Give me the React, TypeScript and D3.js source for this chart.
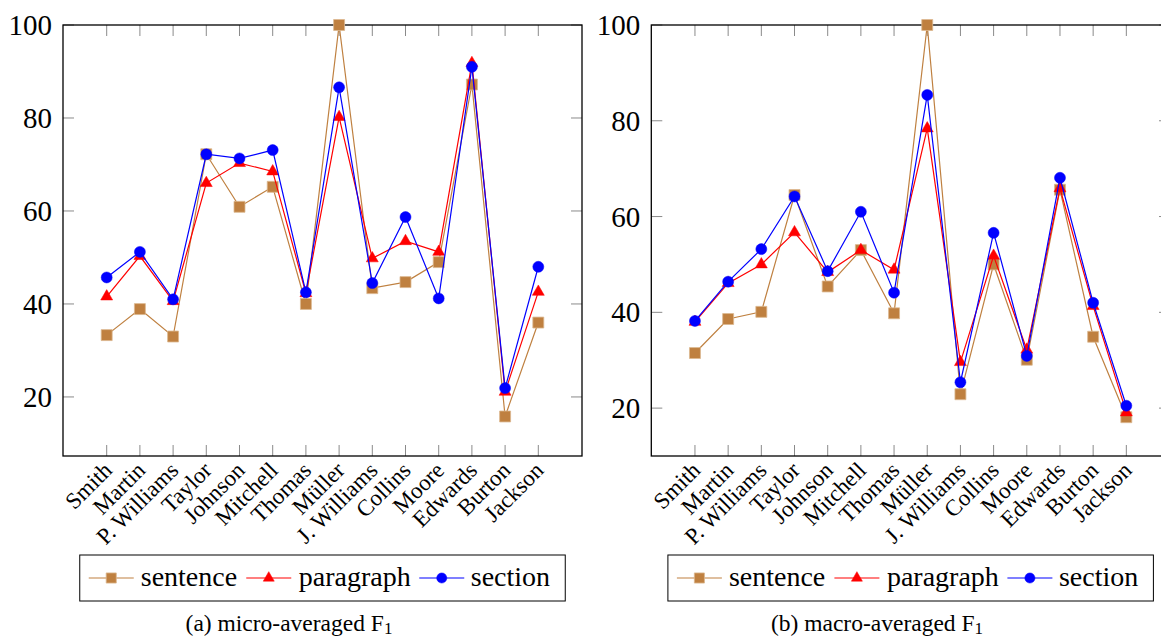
import React from 'react';
import * as d3 from 'd3';

const categories = ['Smith', 'Martin', 'P. Williams', 'Taylor', 'Johnson', 'Mitchell', 'Thomas', 'Müller', 'J. Williams', 'Collins', 'Moore', 'Edwards', 'Burton', 'Jackson'];

// micro-averaged F1
const microSentence = [33.3, 38.9, 33.0, 72.2, 60.9, 65.2, 40.0, 100, 43.4, 44.7, 49.0, 87.2, 15.8, 36.0];
const microParagraph = [41.6, 50.3, 40.6, 66.0, 70.3, 68.5, 42.3, 80.2, 49.8, 53.5, 51.2, 91.8, 21.1, 42.6];
const microSection = [45.7, 51.2, 41.0, 72.2, 71.3, 73.1, 42.5, 86.6, 44.5, 58.7, 41.2, 91.0, 21.9, 48.0];

// macro-averaged F1
const macroSentence = [31.5, 38.6, 40.1, 64.5, 45.4, 53.0, 39.8, 100, 22.9, 50.0, 30.1, 65.6, 34.9, 18.1];
const macroParagraph = [38.0, 46.1, 50.0, 56.7, 48.4, 53.0, 48.9, 78.4, 29.6, 51.8, 32.2, 65.9, 41.3, 19.1];
const macroSection = [38.2, 46.4, 53.2, 64.2, 48.6, 61.0, 44.1, 85.4, 25.4, 56.6, 30.9, 68.1, 42.0, 20.5];

const yTicks = [20, 40, 60, 80, 100];
const seriesNames = ['sentence', 'paragraph', 'section'];

const FONT = 'Liberation Serif, Times New Roman, serif';
const COLORS = ['#bf8040', '#ff0000', '#0000ff'];
const SYMBOLS = [d3.symbolSquare, d3.symbolTriangle, d3.symbolCircle];
const SIZES = [120, 62, 95];

const Marker = ({ i, x, y, scale = 1 }: { i: number; x: number; y: number; scale?: number }) => {
  const path = d3.symbol(SYMBOLS[i], SIZES[i] * scale)() as string;
  return (
    <path
      d={path}
      transform={`translate(${x},${y})`}
      fill={COLORS[i]}
      stroke={i === 0 ? '#dcb88f' : COLORS[i]}
      strokeWidth={i === 0 ? 0.8 : 0.5}
    />
  );
};

type PanelProps = {
  x0: number;
  x1: number;
  yMin: number;
  series: number[][];
  caption: string;
  captionX: number;
};

const Panel = ({ x0, x1, yMin, series, caption, captionX }: PanelProps) => {
  const top = 25;
  const bottom = 456;
  const x = d3.scalePoint<string>().domain(categories).range([x0, x1]).padding(1.316);
  const y = d3.scaleLinear().domain([yMin, 100]).range([bottom, top]);
  const line = d3.line<number>().x((_, i) => x(categories[i]) as number).y(d => y(d));
  const tickLen = 11;

  const legendW = 485.5;
  const lx = (x0 + x1) / 2 - legendW / 2;
  const ly = 555;
  const lh = 46;
  const legendItems = [
    { lineFrom: 9, lineTo: 54, text: 61 },
    { lineFrom: 166.5, lineTo: 211.5, text: 219 },
    { lineFrom: 339.5, lineTo: 384.5, text: 391 },
  ];

  return (
    <g>
      {/* ticks */}
      {categories.map(c => (
        <g key={c}>
          <line x1={x(c)} x2={x(c)} y1={bottom} y2={bottom - tickLen} stroke="#8a8a8a" strokeWidth={1} />
          <line x1={x(c)} x2={x(c)} y1={top} y2={top + tickLen} stroke="#8a8a8a" strokeWidth={1} />
        </g>
      ))}
      {yTicks.map(t => (
        <g key={t}>
          <line x1={x0} x2={x0 + tickLen} y1={y(t)} y2={y(t)} stroke="#8a8a8a" strokeWidth={1} />
          <line x1={x1} x2={x1 - tickLen} y1={y(t)} y2={y(t)} stroke="#8a8a8a" strokeWidth={1} />
          <text x={x0 - 11} y={y(t)} dy="0.35em" textAnchor="end" fontFamily={FONT} fontSize={29} fill="#000">
            {t}
          </text>
        </g>
      ))}
      <rect x={x0} y={top} width={x1 - x0} height={bottom - top} fill="none" stroke="#000" strokeWidth={1.3} />

      {/* category labels */}
      {categories.map(c => (
        <text
          key={c}
          transform={`translate(${(x(c) as number) + 1},${bottom + 10}) rotate(-45)`}
          textAnchor="end"
          dy="0.35em"
          fontFamily={FONT}
          fontSize={23}
          fill="#000"
        >
          {c}
        </text>
      ))}

      {/* series */}
      {series.map((vals, si) => (
        <g key={si}>
          <path d={line(vals) as string} fill="none" stroke={COLORS[si]} strokeWidth={1.2} />
          {vals.map((v, i) => (
            <Marker key={i} i={si} x={x(categories[i]) as number} y={y(v)} />
          ))}
        </g>
      ))}

      {/* legend */}
      <rect x={lx} y={ly} width={legendW} height={lh} fill="#fff" stroke="#000" strokeWidth={1} />
      {legendItems.map((it, i) => (
        <g key={i}>
          <line x1={lx + it.lineFrom} x2={lx + it.lineTo} y1={ly + lh / 2} y2={ly + lh / 2} stroke={COLORS[i]} strokeWidth={1.2} />
          <Marker i={i} x={lx + (it.lineFrom + it.lineTo) / 2} y={ly + lh / 2} scale={0.85} />
          <text x={lx + it.text} y={ly + lh / 2} dy="0.3em" fontFamily={FONT} fontSize={28} fill="#000">
            {seriesNames[i]}
          </text>
        </g>
      ))}

      {/* caption */}
      <text x={captionX} y={631} textAnchor="middle" fontFamily={FONT} fontSize={23.5} fill="#000">
        {caption}
        <tspan>F</tspan>
        <tspan dy={3} fontSize={17}>1</tspan>
      </text>
    </g>
  );
};

export default function App() {
  return (
    <svg
      width={1161}
      height={639}
      style={{ position: 'absolute', left: 0, top: 0, background: '#fff' }}
    >
      <rect width={1161} height={639} fill="#fff" />
      <Panel
        x0={63}
        x1={582}
        yMin={7.3}
        series={[microSentence, microParagraph, microSection]}
        caption="(a) micro-averaged "
        captionX={289}
      />
      <Panel
        x0={651.3}
        x1={1170}
        yMin={10}
        series={[macroSentence, macroParagraph, macroSection]}
        caption="(b) macro-averaged "
        captionX={877}
      />
    </svg>
  );
}
